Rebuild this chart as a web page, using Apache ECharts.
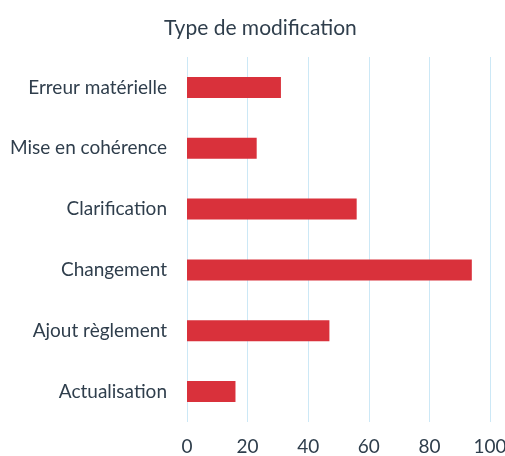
<!DOCTYPE html>
<html><head><meta charset="utf-8">
<script src="https://cdn.jsdelivr.net/npm/echarts@6/dist/echarts.min.js"></script>
<style>html,body{margin:0;padding:0;background:#fff}#c{width:505px;height:456px}</style>
</head><body><div id="c"></div>
<script>
const title = 'Type de modification';
const categories = ['Erreur matérielle','Mise en cohérence','Clarification','Changement','Ajout règlement','Actualisation'];
const values = [31,23,56,94,47,16];
const xTicks = [0,20,40,60,80,100];

const chart = echarts.init(document.getElementById('c'));
const txt = '#2f3e4c';
chart.setOption({
  animation:false,
  title:{text:title,left:159,top:13,textStyle:{fontFamily:'Lato',fontSize:21,fontWeight:'normal',color:txt}},
  grid:{left:187,right:15,top:57,bottom:34,containLabel:false,outerBoundsMode:'none'},
  xAxis:{type:'value',min:xTicks[0],max:xTicks[xTicks.length-1],interval:20,
    axisLine:{show:false},axisTick:{show:false},
    splitLine:{lineStyle:{color:'#cce8f6',width:1}},
    axisLabel:{fontFamily:'Lato',fontSize:19,color:txt,margin:15}},
  yAxis:{type:'category',data:categories,inverse:true,
    axisLine:{show:false},axisTick:{show:false},
    axisLabel:{fontFamily:'Lato',fontSize:19,color:txt,margin:20}},
  series:[{type:'bar',data:values,barWidth:21,itemStyle:{color:'#d9313b'}}]
});
</script></body></html>
